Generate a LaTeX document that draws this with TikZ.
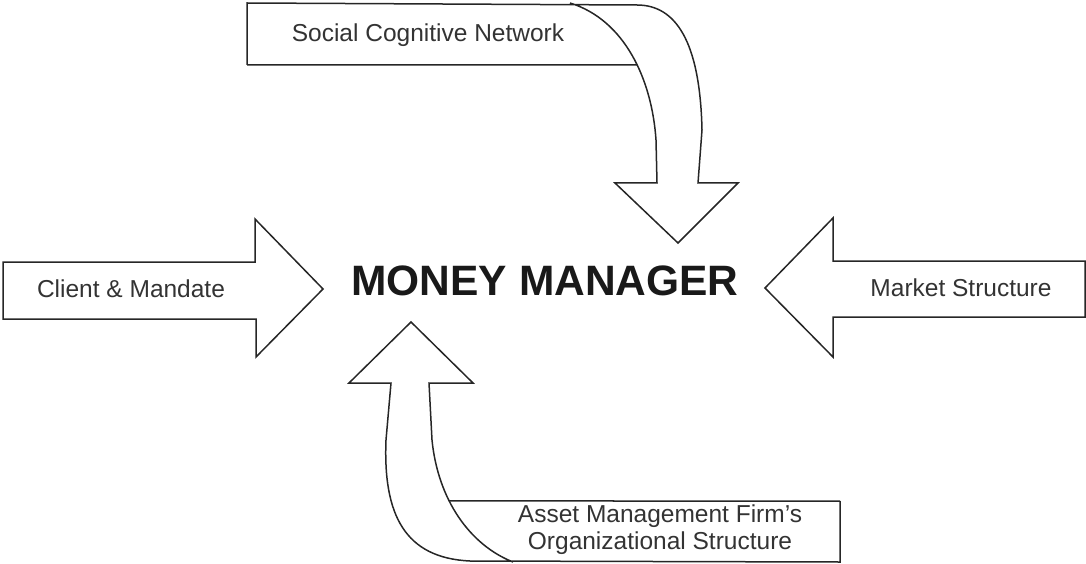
\documentclass[tikz,border=0pt]{standalone}
\usepackage{fontspec}
\setmainfont{Liberation Sans}
\usetikzlibrary{intersections}
\tikzset{
  outl/.style={draw=black!85, line width=1.5pt, line join=miter},
  lbl/.style={font=\fontsize{24.5}{27}\selectfont, text=black!80, align=center, inner sep=0pt},
  title/.style={font=\fontsize{42.5}{46}\selectfont\bfseries, text=black!90, inner sep=0pt}
}
\begin{document}
\begin{tikzpicture}[x=1pt,y=-1pt]
\useasboundingbox (0,0) rectangle (1086,564);
% left arrow
\draw[outl] (3,262) -- (255,262) -- (255,219) -- (323,289) -- (256,357) -- (256,319) -- (3,319) -- cycle;
% right arrow
\draw[outl] (1085,261) -- (833,261) -- (833,218) -- (765,288) -- (833,357) -- (833,317) -- (1085,317) -- cycle;
% top bent arrow
\path[name path=topinner] (657,183) -- (656,140) .. controls (652,80) and (625,20) .. (570,3);
\path[name path=topline] (240,65) -- (700,65);
\draw[outl] (247,65) -- (247,3) -- (637,5) .. controls (675,5) and (700,40) .. (702,130) -- (698,183) -- (738,183) -- (678,243) -- (615,183) -- (657,183) -- (656,140) .. controls (652,80) and (625,20) .. (570,3);
\draw[outl, name intersections={of=topinner and topline, by=ti}] (247,65) -- (ti);
% bottom bent arrow
\path[name path=botinner] (429,383) -- (432,440) .. controls (438,500) and (470,545) .. (513,562);
\path[name path=botline] (400,501) -- (840,501);
\draw[outl] (513,562) .. controls (470,545) and (438,500) .. (432,440) -- (429,383) -- (473,383) -- (411,322) -- (349,383) -- (391,383) -- (386,440) .. controls (383,515) and (405,558) .. (470,561) -- (840,562) -- (840,501);
\draw[outl, name intersections={of=botinner and botline, by=bi}] (840,501) -- (bi);
% labels
\node[lbl] (social) at (428,35) {Social Cognitive Network};
\node[lbl] (client) at (131,289) {Client \& Mandate};
\node[lbl] (market) at (961,288) {Market Structure};
\node[lbl] (firm) at (660,530) {Asset Management Firm’s\\Organizational Structure};
\node[title] (mm) at (545,281) {MONEY MANAGER};
\end{tikzpicture}
\end{document}
